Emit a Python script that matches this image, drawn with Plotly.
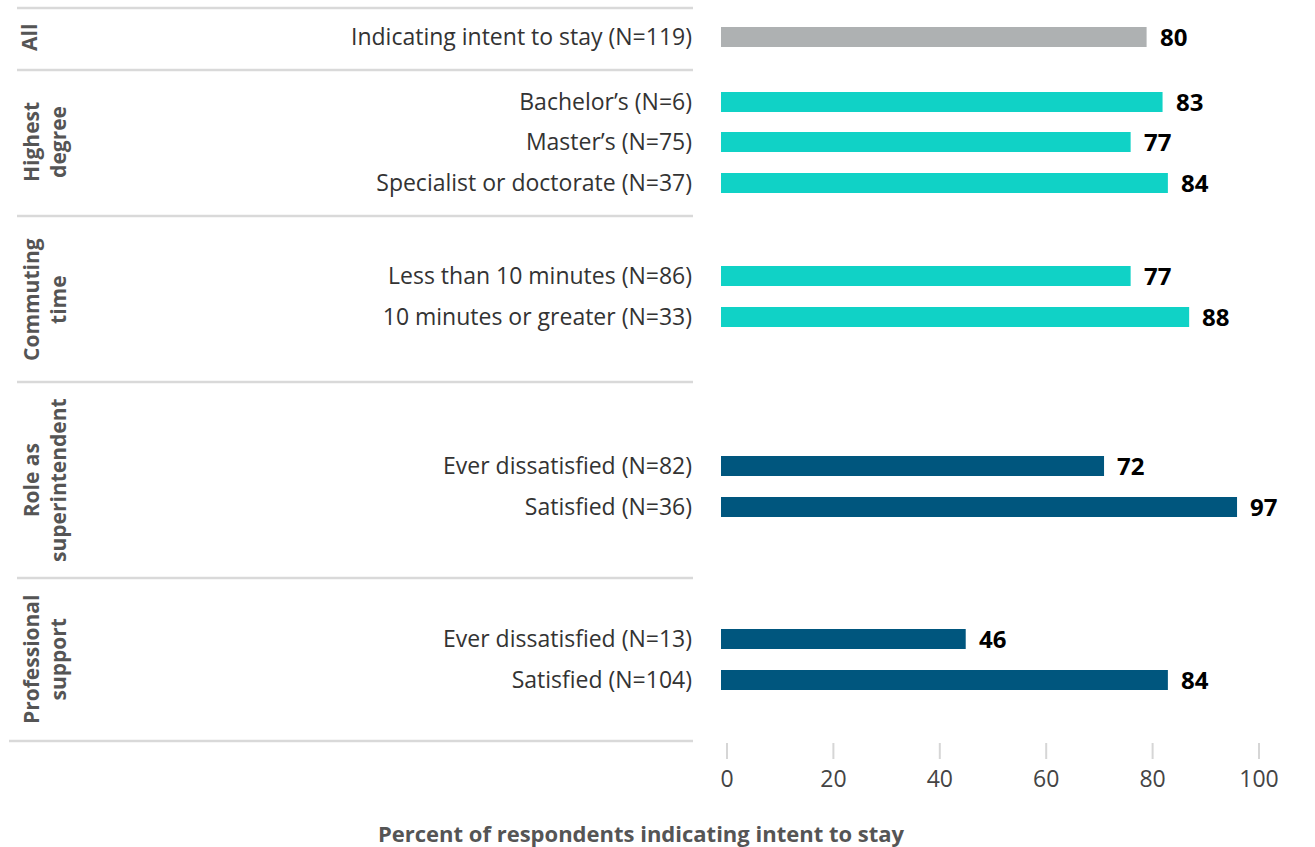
import plotly.graph_objects as go

# ---- data -------------------------------------------------------------
group_names = ["All", "Highest<br>degree", "Commuting<br>time",
               "Role as<br>superintendent", "Professional<br>support"]
row_labels = [
    "Indicating intent to stay (N=119)",
    "Bachelor\u2019s (N=6)",
    "Master\u2019s (N=75)",
    "Specialist or doctorate (N=37)",
    "Less than 10 minutes (N=86)",
    "10 minutes or greater (N=33)",
    "Ever dissatisfied (N=82)",
    "Satisfied (N=36)",
    "Ever dissatisfied (N=13)",
    "Satisfied (N=104)",
]
pct_intent = [80, 83, 77, 84, 77, 88, 72, 97, 46, 84]
row_group = [0, 1, 1, 1, 2, 2, 3, 3, 4, 4]
x_ticks = [0, 20, 40, 60, 80, 100]

# ---- layout (pixel positions of the 1315 x 847 canvas) ----------------
W, H = 1315, 847
ROW_Y = [37, 102, 142, 183, 276, 317, 466, 507, 639, 680]
GROUP_Y = [37, 142, 300, 480, 660]
SEP_Y = [8, 70, 216, 382, 578, 741]
GROUP_COLORS = ["#AEB1B2", "#10D2C6", "#10D2C6", "#00567E", "#00567E"]
FONT = "Open Sans"
X0_PX, X_MAX = 721, 110
PX_PER_UNIT = 5.32
TICK_SHIFT = 6          # tick marks/labels sit slightly right of the bar origin

bar_colors = [GROUP_COLORS[g] for g in row_group]

fig = go.Figure()
fig.add_trace(go.Bar(
    x=pct_intent, y=ROW_Y, orientation="h",
    marker=dict(color=bar_colors, line=dict(width=0)),
    width=20, hoverinfo="skip", showlegend=False,
))

x_end_px = X0_PX + X_MAX * PX_PER_UNIT
annotations = []
for v, y in zip(pct_intent, ROW_Y):
    annotations.append(dict(
        x=v, y=y, xref="x", yref="y", text=f"<b>{v}</b>",
        showarrow=False, xanchor="left", yanchor="middle", xshift=11, yshift=1,
        font=dict(family=FONT, size=24, color="#000000"),
    ))
for name, gy in zip(group_names, GROUP_Y):
    two_lines = "<br>" in name
    annotations.append(dict(
        x=(44 if two_lines else 29) / W, y=gy, xref="paper", yref="y",
        text=f"<b>{name}</b>", textangle=-90, showarrow=False,
        xanchor="center", yanchor="middle", align="center",
        font=dict(family=FONT, size=21, color="#555555"),
    ))
annotations.append(dict(
    x=641 / W, y=833, xref="paper", yref="y",
    text="<b>Percent of respondents indicating intent to stay</b>",
    showarrow=False, xanchor="center", yanchor="middle",
    font=dict(family=FONT, size=22, color="#555555"),
))

shapes = []
for i, sy in enumerate(SEP_Y):
    shapes.append(dict(
        type="line", xref="paper", yref="y",
        x0=(9 if i == len(SEP_Y) - 1 else 17) / W, x1=693 / W, y0=sy, y1=sy,
        line=dict(color="#D9D9D9", width=2.5), layer="below",
    ))
for t in x_ticks:
    shapes.append(dict(
        type="line", xref="x", yref="y", xsizemode="pixel", xanchor=t,
        x0=TICK_SHIFT, x1=TICK_SHIFT, y0=743, y1=759,
        line=dict(color="#D6D6D6", width=2),
    ))

fig.update_layout(
    width=W, height=H,
    margin=dict(l=0, r=0, t=0, b=0),
    paper_bgcolor="white", plot_bgcolor="white",
    xaxis=dict(domain=[X0_PX / W, x_end_px / W], range=[0, X_MAX],
               anchor="free", position=1 - 759 / H, side="bottom",
               tickvals=x_ticks, ticks="", ticklabelshift=TICK_SHIFT,
               ticklabelstandoff=4,
               showgrid=False, zeroline=False, showline=False,
               tickfont=dict(family=FONT, size=23, color="#444444")),
    yaxis=dict(domain=[0, 1], range=[H, 0], tickvals=ROW_Y, ticktext=row_labels,
               ticks="", showgrid=False, zeroline=False, showline=False,
               ticklabelstandoff=28,
               tickfont=dict(family=FONT, size=23, color="#333333")),
    annotations=annotations,
    shapes=shapes,
)

fig.write_html("out.html")
